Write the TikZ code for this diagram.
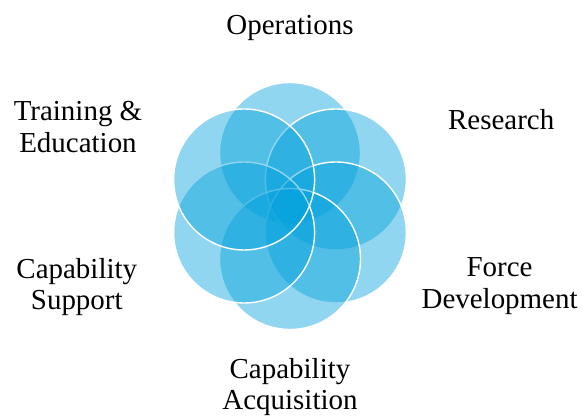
\documentclass[tikz,border=0pt]{standalone}
\usepackage{fontspec}
\setmainfont{Liberation Serif}
\usetikzlibrary{positioning}

\definecolor{petalblue}{RGB}{0,160,220}

\begin{document}
\begin{tikzpicture}[
  petal/.style={circle, draw=white, line width=1pt, fill=petalblue,
                fill opacity=0.43, minimum size=3.525cm, inner sep=0pt},
  lbl/.style={align=center, inner sep=0pt,
              font=\fontsize{20.6}{22.4}\selectfont},
]
\useasboundingbox (-7.25,-5.25) rectangle (7.3,5.15);

% --- Petals (clockwise from the top) ---
\foreach \ang/\name in {90/ops, 30/res, -30/force, -90/acq, -150/supp, 150/train}
  \node[petal] (\name) at (\ang:1.325) {};

% --- Labels ---
\node[lbl] (opsLbl)   at (0,4.44)      {Operations};
\node[lbl] (resLbl)   at (5.28,2.15)   {Research};
\node[lbl] (forceLbl) at (5.24,-2.0)   {Force\\Development};
\node[lbl] (acqLbl)   at (0,-4.52)     {Capability\\Acquisition};
\node[lbl] (suppLbl)  at (-5.33,-2.03) {Capability\\Support};
\node[lbl] (trainLbl) at (-5.3,1.98)   {Training \&\\Education};

\end{tikzpicture}
\end{document}
